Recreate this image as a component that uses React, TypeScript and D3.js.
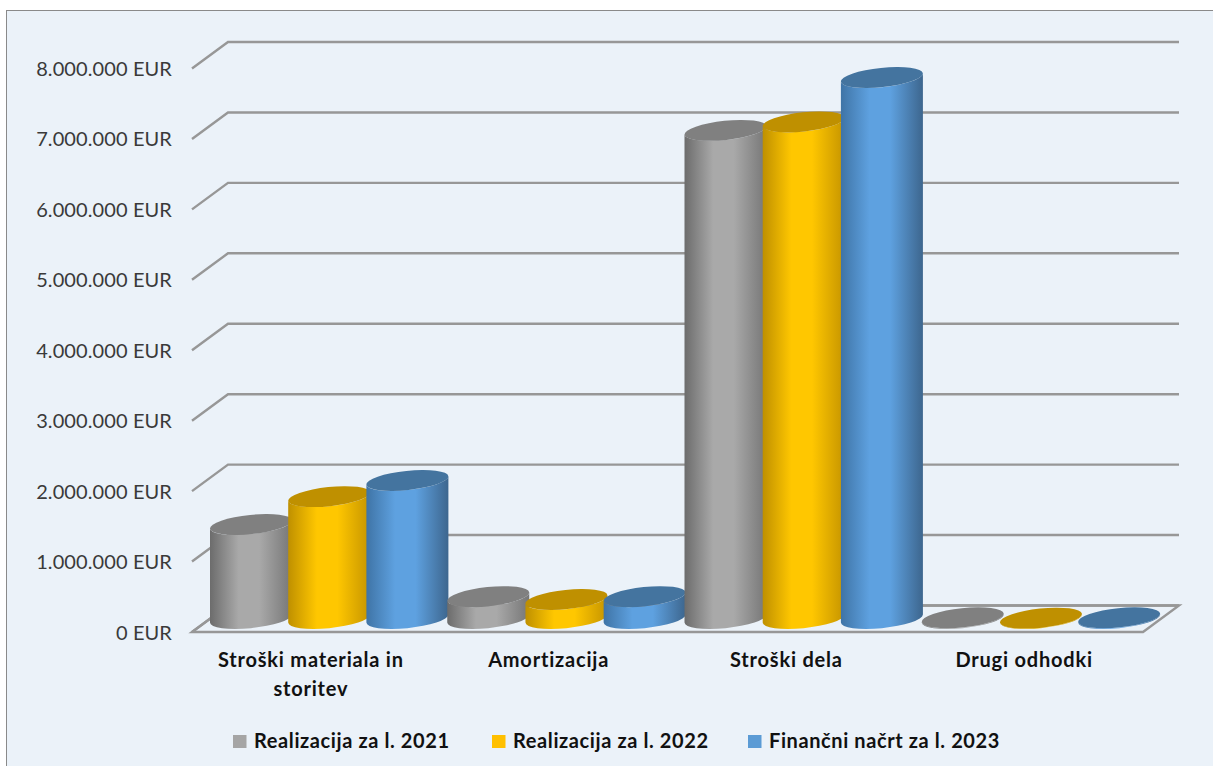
import * as d3 from "d3";

const categories = [["Stroški materiala in", "storitev"], ["Amortizacija"], ["Stroški dela"], ["Drugi odhodki"]];
const seriesNames = ["Realizacija za l. 2021", "Realizacija za l. 2022", "Finančni načrt za l. 2023"];
const values2021 = [1335000, 310000, 6930000, 10000];
const values2022 = [1730000, 270000, 7050000, 5000];
const values2023 = [1960000, 310000, 7680000, 10000];
const yTicks = [0, 1000000, 2000000, 3000000, 4000000, 5000000, 6000000, 7000000, 8000000];

const WIDTH = 1213;
const HEIGHT = 766;
const FONT = "Lato, 'Open Sans', sans-serif";

// floor of the fake 3D box
const frontLeft = 192;
const backLeft = 228;
const backRight = 1179;
const frontRight = 1143;
const depthY = 26.5;
const baseShift = 13; // cylinders stand in the middle of the floor

const y = d3.scaleLinear().domain([0, 8000000]).range([605.5, 42]);
const xCat = d3.scaleBand().domain(d3.range(4).map(String)).range([210, 1159]);
const xSeries = d3.scaleBand().domain(d3.range(3).map(String)).range([0, 234.6]);
const xLabel = d3.scaleBand().domain(d3.range(4).map(String)).range([frontLeft, frontRight]);
const barOverlap = 3.8; // each cylinder is a bit wider than its slot

const palette = [
  { id: "g0", edgeL: "#6c6c6c", mid: "#a9a9a9", edgeR: "#767676", top: "#808080", swatch: "#a5a5a5" },
  { id: "g1", edgeL: "#bf9000", mid: "#ffc700", edgeR: "#c59400", top: "#bf9000", swatch: "#ffc000" },
  { id: "g2", edgeL: "#3f74a6", mid: "#5ea1e0", edgeR: "#3d668e", top: "#44749f", swatch: "#5b9bd5" },
];

const tilt = -6;
const ry = 9.6;

function cylinderPath(cx: number, base: number, top: number, w: number) {
  const phi = (tilt * Math.PI) / 180;
  const halfW = w / 2;
  const cos2 = Math.cos(phi) ** 2;
  const sin2 = Math.sin(phi) ** 2;
  const rx = Math.sqrt((halfW * halfW - ry * ry * sin2) / cos2);
  const dy = ((rx * rx - ry * ry) * Math.sin(phi) * Math.cos(phi)) / halfW;
  const left = cx - halfW;
  const right = cx + halfW;
  return {
    rx,
    d: `M${left},${top - dy} L${left},${base - dy} A${rx},${ry} ${tilt} 0 0 ${right},${base + dy} L${right},${top + dy} A${rx},${ry} ${tilt} 0 1 ${left},${top - dy} Z`,
  };
}

export default function App() {
  const allSeries = [values2021, values2022, values2023];
  const legendX = [233, 492, 748];

  return (
    <svg
      width={WIDTH}
      height={HEIGHT}
      style={{ position: "absolute", left: 0, top: 0, display: "block" }}
      fontFamily={FONT}
    >
      <defs>
        {palette.map((p) => (
          <linearGradient key={p.id} id={p.id} x1="0" x2="1" y1="0" y2="0">
            <stop offset="0%" stopColor={p.edgeL} />
            <stop offset="35%" stopColor={p.mid} />
            <stop offset="60%" stopColor={p.mid} />
            <stop offset="100%" stopColor={p.edgeR} />
          </linearGradient>
        ))}
      </defs>
      <rect x={0} y={0} width={WIDTH} height={HEIGHT} fill="#ffffff" />
      <rect x={6.5} y={10.5} width={WIDTH + 10} height={HEIGHT} fill="#ebf2f9" stroke="#8a8a8a" strokeWidth={1} />

      {yTicks.map((t) => (
        <g key={t}>
          <polyline
            points={`${frontLeft},${y(t) + depthY} ${backLeft},${y(t)} ${backRight},${y(t)}`}
            fill="none"
            stroke="#979797"
            strokeWidth={2.4}
          />
          <text x={172} y={y(t) + depthY + 7.5} textAnchor="end" fontSize={20} letterSpacing={0.1} fill="#3a3a3a">
            {d3.format(",")(t).replace(/,/g, ".")} EUR
          </text>
        </g>
      ))}
      <polygon
        points={`${frontLeft},${y(0) + depthY} ${frontRight},${y(0) + depthY} ${backRight},${y(0)} ${backLeft},${y(0)}`}
        fill="none"
        stroke="#979797"
        strokeWidth={2.4}
      />

      {categories.map((_, c) =>
        allSeries.map((vals, s) => {
          const w = xSeries.bandwidth() + barOverlap;
          const cx = xCat(String(c))! + xSeries(String(s))! + w / 2;
          const base = y(0) + baseShift;
          const top = y(vals[c]) + baseShift;
          const { rx, d } = cylinderPath(cx, base, top, w);
          return (
            <g key={`${c}-${s}`}>
              <path d={d} fill={`url(#${palette[s].id})`} />
              <ellipse cx={cx} cy={top} rx={rx} ry={ry} fill={palette[s].top} transform={`rotate(${tilt} ${cx} ${top})`} />
            </g>
          );
        })
      )}

      {categories.map((lines, c) => (
        <text
          key={c}
          x={xLabel(String(c))! + xLabel.bandwidth() / 2}
          y={667}
          textAnchor="middle"
          fontSize={20}
          letterSpacing={0.8}
          fontWeight={700}
          fill="#111111"
        >
          {lines.map((line, i) => (
            <tspan key={i} x={xLabel(String(c))! + xLabel.bandwidth() / 2} dy={i === 0 ? 0 : 29}>
              {line}
            </tspan>
          ))}
        </text>
      ))}

      {seriesNames.map((name, s) => (
        <g key={name}>
          <rect x={legendX[s]} y={735} width={13.5} height={13} fill={palette[s].swatch} />
          <text x={legendX[s] + 21} y={748} fontSize={20} letterSpacing={0.6} fontWeight={700} fill="#111111">
            {name}
          </text>
        </g>
      ))}
    </svg>
  );
}
